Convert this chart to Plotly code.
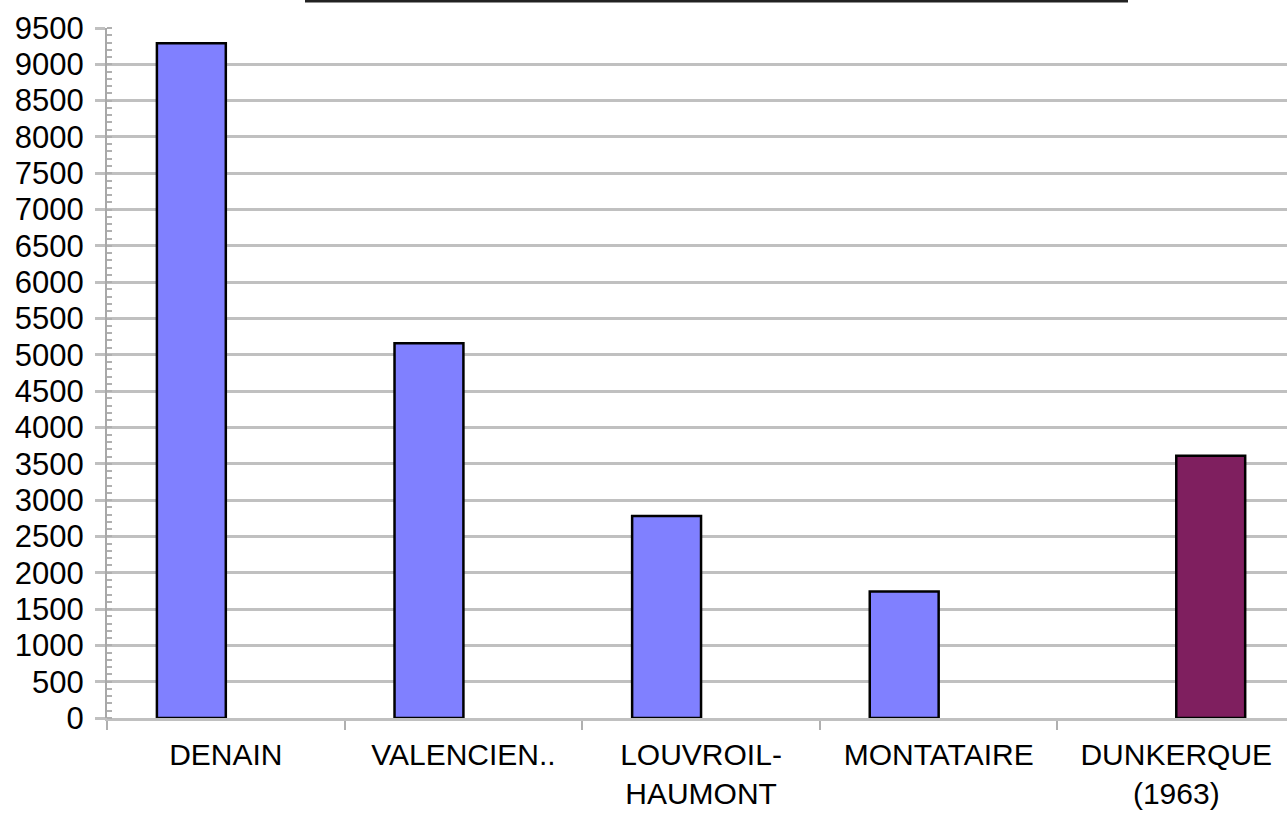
import plotly.graph_objects as go

categories = ["DENAIN", "VALENCIEN..", "LOUVROIL-<br>HAUMONT", "MONTATAIRE", "DUNKERQUE<br>(1963)"]
series_a = [9290, 5160, 2780, 1740, None]
series_b = [None, None, None, None, 3610]
y_ticks = list(range(0, 9501, 500))

fig = go.Figure()
fig.add_trace(go.Bar(x=categories, y=series_a, marker=dict(color="#8080FF", line=dict(color="#000000", width=2.5)), showlegend=False))
fig.add_trace(go.Bar(x=categories, y=series_b, marker=dict(color="#7F1F5F", line=dict(color="#000000", width=2.5)), showlegend=False))

fig.update_layout(
    width=1287, height=813,
    margin=dict(l=107, r=0, t=28, b=95),
    paper_bgcolor="white", plot_bgcolor="white",
    barmode="group", bargap=0.42, bargroupgap=0,
    font=dict(family="Liberation Sans, Arial, sans-serif", color="#000000"),
    xaxis=dict(
        type="category", range=[-0.5, 4.466], tickson="boundaries",
        ticks="outside", ticklen=9, tickwidth=2, tickcolor="#b0b0b0",
        showline=True, linecolor="#c0c0c0", linewidth=2.5,
        showgrid=False, tickfont=dict(size=30, color="#000000"),
        ticklabelstandoff=8, automargin=False,
    ),
    yaxis=dict(
        range=[0, 9500], tickvals=y_ticks, ticktext=[str(v) for v in y_ticks],
        ticks="outside", ticklen=10, tickwidth=2.5, tickcolor="#c0c0c0",
        showline=True, linecolor="#a8a8a8", linewidth=2,
        showgrid=True, gridcolor="#c0c0c0", gridwidth=2.5,
        zeroline=False, automargin=False,
        tickfont=dict(size=31, color="#000000"),
        ticklabelstandoff=5,
        minor=dict(dtick=100, ticks="inside", ticklen=5, tickwidth=1.5, tickcolor="#b0b0b0", showgrid=False),
    ),
    shapes=[dict(type="line", xref="paper", yref="paper",
                 x0=(305 - 107) / 1180, x1=(1128 - 107) / 1180,
                 y0=1 + 27 / 690, y1=1 + 27 / 690,
                 line=dict(color="#222222", width=3))],
)

fig.write_html("out.html")
